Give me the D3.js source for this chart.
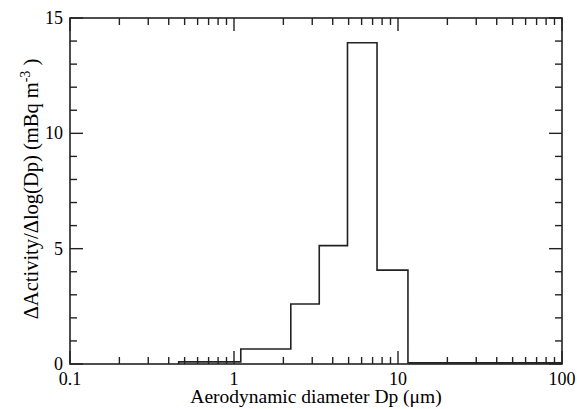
<!DOCTYPE html>
<html>
<head>
<meta charset="utf-8">
<script src="https://cdn.jsdelivr.net/npm/d3@7"></script>
<style>
body { margin: 0; background: #fff; }
svg { display: block; }
text { font-family: "Liberation Serif", "DejaVu Serif", serif; fill: #000; }
</style>
</head>
<body>
<div id="chart"></div>
<script>
// bin edges (um) and activity size distribution per bin
var binEdges = [0.46, 1.1, 2.22, 3.31, 4.92, 7.45, 11.5, 100];
var binValues = [0.09, 0.65, 2.6, 5.13, 13.93, 4.07, 0.05];
var xMajor = [0.1, 1, 10, 100];
var yMajor = [0, 5, 10, 15];

var W = 577, H = 409;
var pLeft = 70, pRight = 562, pTop = 18, pBottom = 364;

var svg = d3.select("#chart").append("svg")
	.attr("width", W)
	.attr("height", H);

var x = d3.scaleLog().domain([0.1, 100]).range([pLeft, pRight]);
var y = d3.scaleLinear().domain([0, 15]).range([pBottom, pTop]);

// minor ticks
var xMinor = [];
xMajor.slice(0, -1).forEach(function(d){
	for (var k = 2; k <= 9; k++) xMinor.push(d * k);
});
var yMinor = d3.range(0, 16).filter(function(d){ return d % 5 != 0; });

//the step line
var pts = binValues.map(function(v, i){ return [binEdges[i], v]; });
pts.push([binEdges[binEdges.length - 1], binValues[binValues.length - 1]]);
pts.unshift([binEdges[0], 0]);

var line = d3.line()
	.x(function(d){ return x(d[0]); })
	.y(function(d){ return y(d[1]); })
	.curve(d3.curveStepAfter);

svg.append("path")
	.datum(pts)
	.attr("d", line)
	.attr("fill", "none")
	.attr("stroke", "#222")
	.attr("stroke-width", 1.6);

var ticks = svg.append("g")
	.attr("stroke", "#222")
	.attr("stroke-width", 1.4);

function xTick(v, len){
	ticks.append("line").attr("x1", x(v)).attr("x2", x(v)).attr("y1", pBottom).attr("y2", pBottom - len);
	ticks.append("line").attr("x1", x(v)).attr("x2", x(v)).attr("y1", pTop).attr("y2", pTop + len);
}
function yTick(v, len){
	ticks.append("line").attr("y1", y(v)).attr("y2", y(v)).attr("x1", pLeft).attr("x2", pLeft + len);
	ticks.append("line").attr("y1", y(v)).attr("y2", y(v)).attr("x1", pRight).attr("x2", pRight - len);
}
xMajor.forEach(function(d){ xTick(d, 13); });
xMinor.forEach(function(d){ xTick(d, 7); });
yMajor.forEach(function(d){ yTick(d, 13); });
yMinor.forEach(function(d){ yTick(d, 7); });

// frame
svg.append("rect")
	.attr("x", pLeft)
	.attr("y", pTop)
	.attr("width", pRight - pLeft)
	.attr("height", pBottom - pTop)
	.attr("fill", "none")
	.attr("stroke", "#222")
	.attr("stroke-width", 1.6);

// tick labels
svg.selectAll(".xl").data(xMajor).enter().append("text")
	.attr("class", "xl")
	.attr("x", function(d){ return x(d); })
	.attr("y", pBottom + 21)
	.attr("text-anchor", "middle")
	.attr("font-size", 18)
	.text(function(d){ return d; });

svg.selectAll(".yl").data(yMajor).enter().append("text")
	.attr("class", "yl")
	.attr("x", pLeft - 7)
	.attr("y", function(d){ return y(d) + 6; })
	.attr("text-anchor", "end")
	.attr("font-size", 18)
	.text(function(d){ return d; });

// axis titles
svg.append("text")
	.attr("x", (pLeft + pRight) / 2)
	.attr("y", 403)
	.attr("text-anchor", "middle")
	.attr("font-size", 19.5)
	.text("Aerodynamic diameter Dp (\u03bcm)");

var yt = svg.append("text")
	.attr("transform", "translate(38,189) rotate(-90)")
	.attr("text-anchor", "middle")
	.attr("font-size", 20.5);
yt.append("tspan").text("\u0394Activity/\u0394log(Dp) (mBq m");
yt.append("tspan").attr("dy", -8).attr("font-size", 14).text("-3");
yt.append("tspan").attr("dy", 8).text(" )");
</script>
</body>
</html>
